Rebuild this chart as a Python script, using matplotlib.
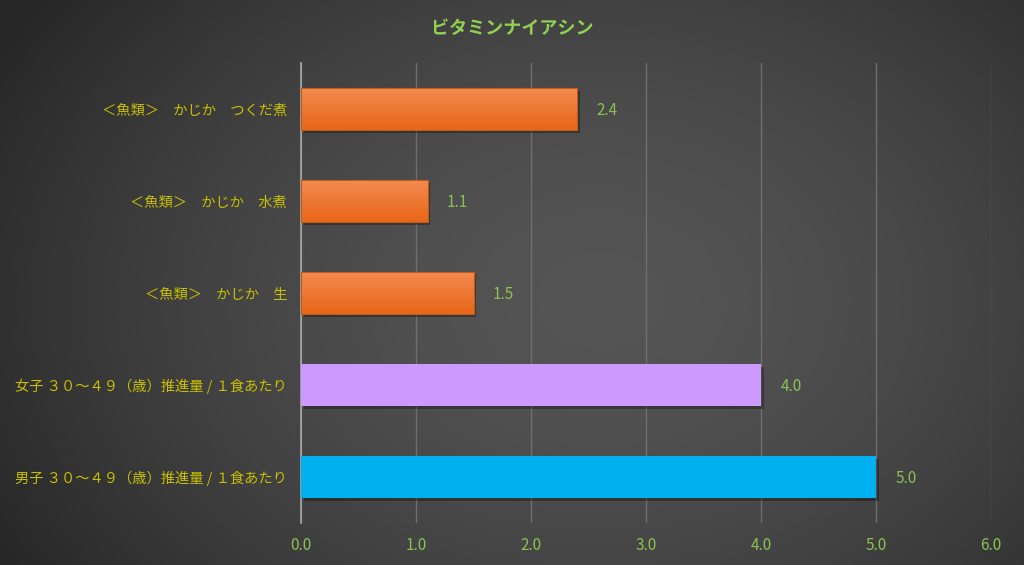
import numpy as np
import matplotlib
matplotlib.use("Agg")
import matplotlib.pyplot as plt
import matplotlib.patheffects as pe

plt.rcParams['font.family'] = ['Noto Sans CJK JP', 'DejaVu Sans']

title = "ビタミンナイアシン"
categories = ["男子 ３０～４９（歳）推進量 / １食あたり",
              "女子 ３０～４９（歳）推進量 / １食あたり",
              "＜魚類＞　かじか　生",
              "＜魚類＞　かじか　水煮",
              "＜魚類＞　かじか　つくだ煮"]
values = [5.0, 4.0, 1.5, 1.1, 2.4]
bar_colors = ["#00b0f0", "#cc99ff", "#ef7224", "#ef7224", "#ef7224"]
gradient_bars = [False, False, True, True, True]
x_ticks = [0, 1, 2, 3, 4, 5, 6]

fig = plt.figure(figsize=(10.24, 5.65), dpi=100)

# background radial gradient
bg = fig.add_axes([0, 0, 1, 1])
bg.set_axis_off()
yy, xx = np.mgrid[0:565, 0:1024]
cx, cy = 600, 300
r = np.sqrt(((xx - cx) / 700.0) ** 2 + ((yy - cy) / 520.0) ** 2)
r = np.clip(r, 0, 1)
c0 = np.array([0x55, 0x55, 0x55]) / 255.0
c1 = np.array([0x26, 0x26, 0x26]) / 255.0
img = c0[None, None, :] * (1 - r[..., None] ** 1.6) + c1[None, None, :] * (r[..., None] ** 1.6)
bg.imshow(img, extent=(0, 1, 0, 1), aspect='auto', origin='upper')
bg.set_xlim(0, 1)
bg.set_ylim(0, 1)

ax = fig.add_axes([0.294, 0.074, 0.674, 0.8145])
ax.patch.set_alpha(0)
ypos = np.arange(len(categories))
bars = ax.barh(ypos, values, height=0.46, color=bar_colors, zorder=3,
               edgecolor='none')
for b, g in zip(bars, gradient_bars):
    b.set_path_effects([pe.SimplePatchShadow(offset=(2, -2), shadow_rgbFace='black', alpha=0.3),
                        pe.Normal()])
    if g:
        x0, y0 = b.get_x(), b.get_y()
        w, h = b.get_width(), b.get_height()
        top = np.array([0xf4, 0x8c, 0x52]) / 255.0
        bot = np.array([0xe8, 0x66, 0x18]) / 255.0
        t = np.linspace(0, 1, 64)[:, None]
        grad = (top * (1 - t) + bot * t)[:, None, :]
        im = ax.imshow(grad, extent=(x0, x0 + w, y0, y0 + h), aspect='auto',
                       origin='upper', zorder=4)
        im.set_clip_path(b)
        edge = plt.Rectangle((x0, y0), w, h, fill=False, edgecolor='#c45a1a',
                             linewidth=0.8, zorder=5)
        ax.add_patch(edge)

for v, y in zip(values, ypos):
    ax.annotate(f"{v:.1f}", xy=(v, y), xytext=(14, -1), textcoords='offset points',
                va='center', ha='left', color='#8cc152', fontsize=11, zorder=6)

ax.set_xlim(0, 6)
ax.set_ylim(-0.5, 4.5)
ax.set_xticks(x_ticks)
ax.set_xticklabels([f"{t:.1f}" for t in x_ticks], color='#8cc152', fontsize=11)
ax.set_yticks(ypos)
ax.set_yticklabels(categories, color='#c8c000', fontsize=10.3)
ax.tick_params(axis='both', length=0)
ax.tick_params(axis='y', pad=10)
ax.tick_params(axis='x', pad=10)
ax.grid(axis='x', color='#6e6e6e', linewidth=1, zorder=1)
ax.grid(axis='y', visible=False)
for s in ['top', 'right', 'bottom']:
    ax.spines[s].set_visible(False)
ax.spines['left'].set_color('#a8a8a8')
ax.spines['left'].set_linewidth(1.2)
ax.spines['left'].set_zorder(2)

fig.text(0.500, 0.950, title, ha='center', va='center', color='#92d050',
         fontsize=13, fontweight='bold',
         path_effects=[pe.SimpleLineShadow(offset=(1, -1), alpha=0.5), pe.Normal()])

fig.savefig("out.png", dpi=100)
